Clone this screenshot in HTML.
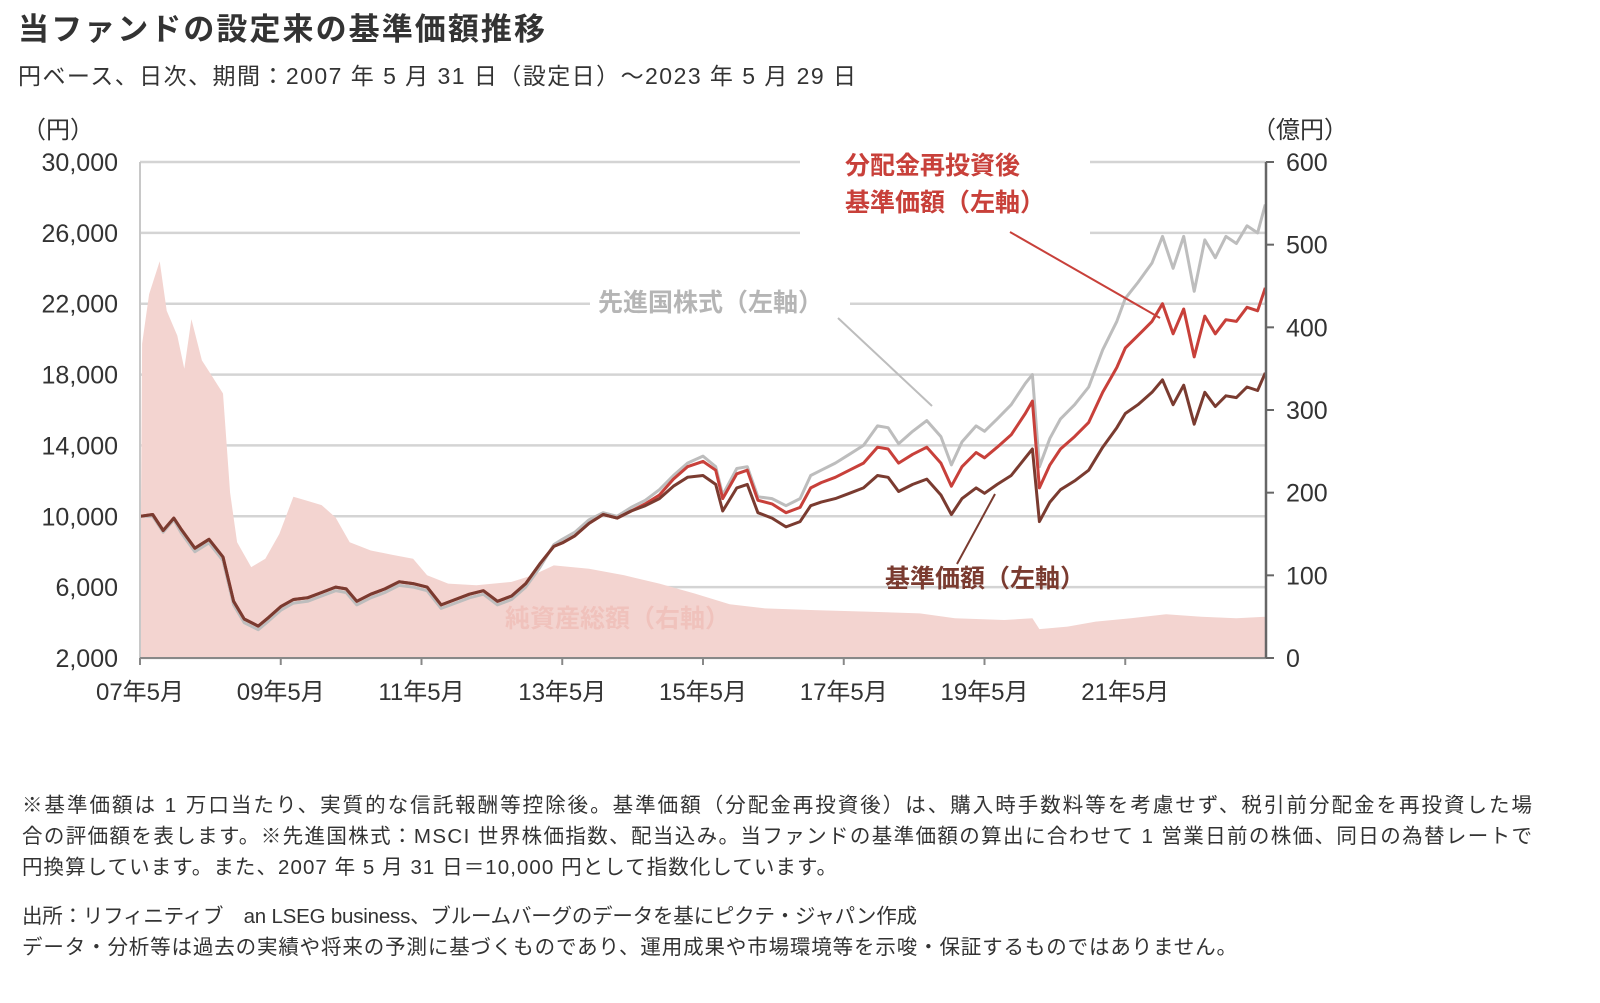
<!DOCTYPE html>
<html><head><meta charset="utf-8"><style>
body{margin:0;background:#fff;width:1600px;height:1003px;overflow:hidden}
svg{display:block;font-family:"Liberation Sans","Noto Sans CJK JP",sans-serif}
</style></head><body>
<svg id="chart" width="1600" height="1003" viewBox="0 0 1600 1003" xmlns="http://www.w3.org/2000/svg">
<text x="18" y="40" font-size="31" font-weight="bold" fill="#333" textLength="527">当ファンドの設定来の基準価額推移</text>
<text x="18" y="84" font-size="23" fill="#333" textLength="838">円ベース、日次、期間：2007 年 5 月 31 日（設定日）～2023 年 5 月 29 日</text>
<g id="plot"></g>
<g font-size="20.5" fill="#333">
<text x="22" y="812" textLength="1510">※基準価額は 1 万口当たり、実質的な信託報酬等控除後。基準価額（分配金再投資後）は、購入時手数料等を考慮せず、税引前分配金を再投資した場</text>
<text x="22" y="843" textLength="1510">合の評価額を表します。※先進国株式：MSCI 世界株価指数、配当込み。当ファンドの基準価額の算出に合わせて 1 営業日前の株価、同日の為替レートで</text>
<text x="22" y="874" textLength="815">円換算しています。また、2007 年 5 月 31 日＝10,000 円として指数化しています。</text>
<text x="22" y="923" textLength="895">出所：リフィニティブ　an LSEG business、ブルームバーグのデータを基にピクテ・ジャパン作成</text>
<text x="22" y="954" textLength="1215">データ・分析等は過去の実績や将来の予測に基づくものであり、運用成果や市場環境等を示唆・保証するものではありません。</text>
</g>
</svg>
<script>
const dates=[2007.42,2007.6,2007.75,2007.9,2008.0,2008.2,2008.4,2008.6,2008.75,2008.9,2009.1,2009.25,2009.42,2009.6,2009.8,2010.0,2010.2,2010.35,2010.5,2010.7,2010.9,2011.1,2011.3,2011.5,2011.7,2011.9,2012.1,2012.3,2012.5,2012.7,2012.9,2013.1,2013.3,2013.42,2013.6,2013.8,2014.0,2014.2,2014.4,2014.6,2014.8,2015.0,2015.2,2015.42,2015.6,2015.7,2015.9,2016.05,2016.2,2016.4,2016.6,2016.8,2016.95,2017.1,2017.3,2017.5,2017.7,2017.9,2018.05,2018.2,2018.4,2018.6,2018.8,2018.95,2019.1,2019.3,2019.42,2019.6,2019.8,2020.0,2020.1,2020.2,2020.35,2020.5,2020.7,2020.9,2021.1,2021.3,2021.42,2021.6,2021.8,2021.95,2022.1,2022.25,2022.4,2022.55,2022.7,2022.85,2023.0,2023.15,2023.3,2023.41];
const navValues=[10000,10100,9200,9900,9300,8200,8700,7700,5200,4200,3800,4300,4900,5300,5400,5700,6000,5900,5200,5600,5900,6300,6200,6000,5000,5300,5600,5800,5200,5500,6200,7300,8300,8500,8900,9600,10100,9900,10300,10600,11000,11700,12200,12300,11800,10300,11600,11800,10200,9900,9400,9700,10600,10800,11000,11300,11600,12300,12200,11400,11800,12100,11200,10100,11000,11600,11300,11800,12300,13300,13800,9700,10800,11500,12000,12600,13900,15000,15800,16300,17000,17700,16300,17400,15200,17000,16200,16800,16700,17300,17100,18100];
const reinvValues=[10000,10100,9200,9900,9300,8200,8700,7700,5200,4200,3800,4300,4900,5300,5400,5700,6000,5900,5200,5600,5900,6300,6200,6000,5000,5300,5600,5800,5200,5500,6200,7300,8300,8500,8900,9600,10100,9900,10300,10700,11200,12100,12800,13100,12600,11000,12400,12600,10900,10700,10200,10500,11600,11900,12200,12600,13000,13900,13800,13000,13500,13900,13000,11700,12800,13600,13300,13900,14600,15800,16500,11600,12900,13800,14500,15300,17000,18400,19500,20200,21000,22000,20300,21700,19000,21300,20300,21100,21000,21800,21600,22900];
const msciValues=[10000,10000,9100,9800,9100,8000,8500,7500,5000,4000,3600,4100,4700,5100,5200,5500,5800,5700,5000,5400,5700,6100,6000,5800,4800,5100,5400,5600,5000,5300,6000,7100,8400,8700,9100,9800,10200,10000,10500,10900,11500,12300,13000,13400,12800,11200,12700,12800,11100,11000,10600,11000,12300,12600,13000,13500,14000,15100,15000,14100,14800,15400,14500,12900,14200,15100,14800,15500,16300,17500,18000,12800,14400,15500,16300,17300,19400,21000,22300,23200,24300,25800,24000,25800,22700,25600,24600,25800,25400,26400,26000,27600];
const assetDates=[2007.42,2007.45,2007.55,2007.7,2007.8,2007.95,2008.05,2008.15,2008.3,2008.45,2008.6,2008.7,2008.8,2009.0,2009.2,2009.4,2009.6,2009.8,2010.0,2010.2,2010.4,2010.7,2011.0,2011.3,2011.5,2011.8,2012.2,2012.7,2013.0,2013.3,2013.8,2014.3,2014.8,2015.3,2015.8,2016.3,2017.0,2017.8,2018.5,2019.0,2019.7,2020.1,2020.2,2020.6,2021.0,2021.5,2022.0,2022.5,2023.0,2023.41];
const assetValues=[0,380,440,480,420,390,350,410,360,340,320,200,140,110,120,150,195,190,185,170,140,130,125,120,100,90,88,92,100,112,108,100,90,78,65,60,58,56,54,48,46,48,35,38,44,48,53,50,48,50];
const leftTicks=[2000,6000,10000,14000,18000,22000,26000,30000];
const rightTicks=[0,100,200,300,400,500,600];
const xTickYears=[2007,2009,2011,2013,2015,2017,2019,2021];

const NS='http://www.w3.org/2000/svg';
const X0=140,X1=1266,YT=162,YB=658;
const xS=d=>X0+(d-2007.42)*(X1-X0)/16;
const yL=v=>YB-(v-2000)/28000*(YB-YT);
const yR=v=>YB-v/600*(YB-YT);
const g=document.getElementById('plot');
function mk(tag,attrs,parent){const e=document.createElementNS(NS,tag);for(const k in attrs)e.setAttribute(k,attrs[k]);(parent||g).appendChild(e);return e;}
function fmt(n){return n.toLocaleString('en-US');}

// gridlines
leftTicks.forEach(t=>{
  const l=mk('line',{x1:X0,x2:X1,y1:yL(t),y2:yL(t),stroke:'#d4d4d4','stroke-width':2.5});
  
  
});
// area
let ad='M'+xS(assetDates[0])+','+YB;
assetDates.forEach((d,i)=>{ad+=' L'+xS(d).toFixed(1)+','+yR(assetValues[i]).toFixed(1);});
ad+=' L'+xS(assetDates[assetDates.length-1])+','+YB+' Z';
const area=mk('path',{d:ad,fill:'#f3d4d0'});


// label backgrounds (gridline gaps)
mk('rect',{x:800,y:150,width:290,height:95,fill:'#fff'});
mk('rect',{x:590,y:290,width:260,height:25,fill:'#fff'});
// lines
function line(vals,color,name){
  let d='';dates.forEach((dt,i)=>{d+=(i?' L':'M')+xS(dt).toFixed(1)+','+yL(vals[i]).toFixed(1);});
  const p=mk('path',{d:d,fill:'none',stroke:color,'stroke-width':3,'stroke-linejoin':'round'});
  
  
}
line(msciValues,'#bdbdbd','msci-line');
line(reinvValues,'#c8403a','reinvested-nav-line');
line(navValues,'#7a3b30','nav-line');
// axes
const la=mk('line',{x1:X0,x2:X0,y1:YT,y2:YB+6,stroke:'#c8c8c8','stroke-width':2});


const ba=mk('line',{x1:X0,x2:X1,y1:YB,y2:YB,stroke:'#888','stroke-width':2});


const ra=mk('line',{x1:X1,x2:X1,y1:YT,y2:YB,stroke:'#666','stroke-width':2.5});


leftTicks.forEach(t=>{
  const tx=mk('text',{x:118,y:yL(t)+9,'text-anchor':'end','font-size':25,fill:'#333'});
  tx.textContent=fmt(t);
  
  
});
rightTicks.forEach(t=>{
  mk('line',{x1:X1,x2:X1+8,y1:yR(t),y2:yR(t),stroke:'#666','stroke-width':2});
  const tx=mk('text',{x:1286,y:yR(t)+9,'font-size':25,fill:'#333'});
  tx.textContent=t;
  
  
});
xTickYears.forEach(y=>{
  const x=xS(y+0.42);
  mk('line',{x1:x,x2:x,y1:YB,y2:YB+7,stroke:'#888','stroke-width':2});
  const tx=mk('text',{x:x,y:700,'text-anchor':'middle','font-size':24,fill:'#333'});
  tx.textContent=String(y%100).padStart(2,'0')+'年5月';
  
  
});
function label(txt,x,y,size,color,name,weight){
  const t=mk('text',{x:x,y:y,'font-size':size,fill:color,'font-weight':weight||'normal'});
  t.textContent=txt;
  
  
}
label('（円）',22,138,24,'#333','left-axis-unit');
label('（億円）',1252,138,24,'#333','right-axis-unit');
label('分配金再投資後',845,174,25,'#c8403a','reinvested-label','bold');
label('基準価額（左軸）',845,211,25,'#c8403a','reinvested-label-2','bold');
label('先進国株式（左軸）',598,311,25,'#b5b5b5','msci-label','bold');
label('基準価額（左軸）',885,587,25,'#7a3b30','nav-label','bold');
label('純資産総額（右軸）',505,627,25,'#f0c2bc','net-assets-label','bold');
mk('line',{x1:1010,y1:232,x2:1160,y2:318,stroke:'#c8403a','stroke-width':2});
mk('line',{x1:838,y1:318,x2:932,y2:406,stroke:'#bdbdbd','stroke-width':2});
mk('line',{x1:957,y1:564,x2:995,y2:494,stroke:'#7a3b30','stroke-width':2});
</script>
</body></html>
